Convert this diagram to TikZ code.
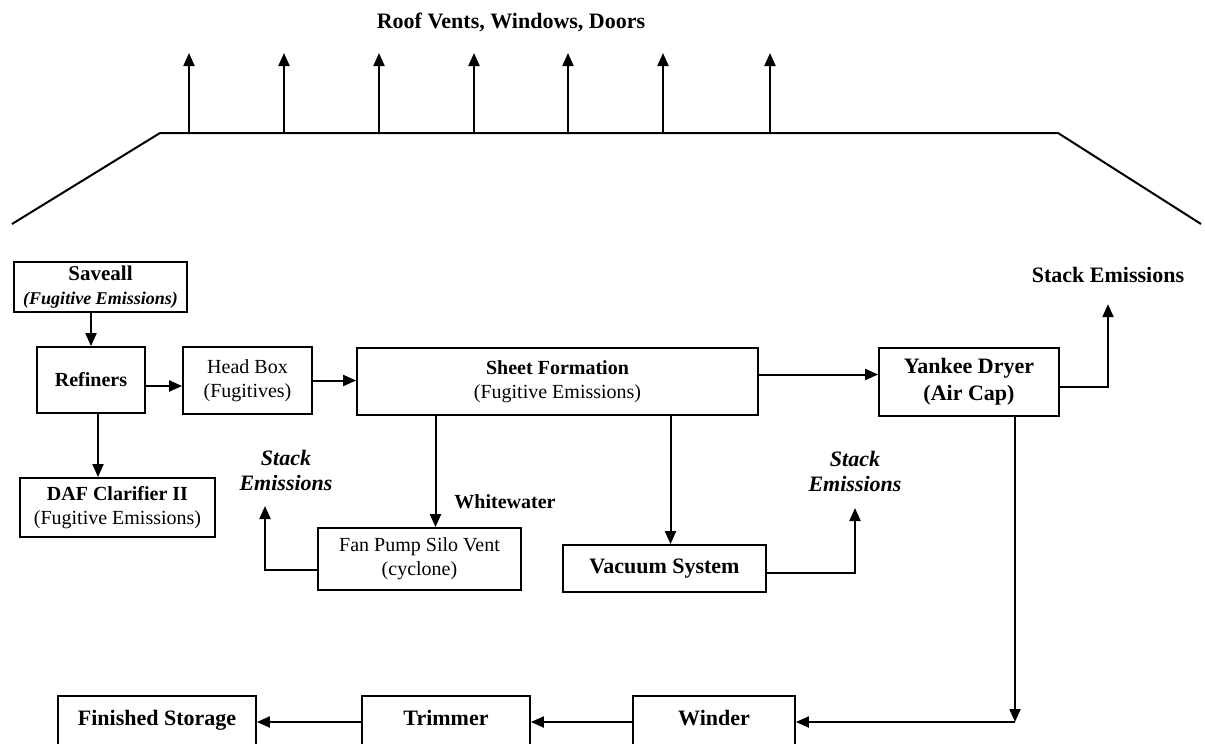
\documentclass[tikz,border=0pt]{standalone}
\usepackage{fontspec}
\setmainfont{Liberation Serif}
\usetikzlibrary{arrows.meta}

\tikzset{
	box/.style={draw, line width=0.9pt, align=center, inner sep=2pt, font=\fontsize{10}{12}\selectfont},
	bigbox/.style={box, font=\fontsize{11}{13.5}\selectfont\bfseries},
	lowbox/.style={bigbox, anchor=north, text height=10pt, text depth=26pt, inner ysep=5pt},
	flow/.style={line width=1pt, -{Triangle[length=6.5pt,width=5.5pt]}},
	stacklbl/.style={align=center, inner sep=0pt, font=\fontsize{11}{12.5}\selectfont\bfseries\itshape},
}

\begin{document}
\begin{tikzpicture}[x=0.5pt,y=-0.5pt]
			\useasboundingbox (0,0) rectangle (1205,744);
			\draw[line width=1pt] (12,224) -- (160,133) -- (1058,133) -- (1201,224);
			\foreach \x in {189,284,379,474,568,663,770}{
				\draw[flow] (\x,133) -- (\x,53);
			}
			\node[font=\fontsize{11}{13}\selectfont\bfseries] (roof) at (511,22) {Roof Vents, Windows, Doors};
			\node[box, minimum width=86.5pt, minimum height=25pt] (save) at (100.5,287)
				{{\fontsize{10.5}{12}\selectfont\bfseries Saveall}\\{\fontsize{9}{11}\selectfont\bfseries\itshape (Fugitive Emissions)}};
			\node[box, minimum width=54pt, minimum height=33pt] (ref) at (91,380) {\textbf{Refiners}};
			\node[box, minimum width=64.5pt, minimum height=33.5pt] (head) at (247.5,380.5) {Head Box\\(Fugitives)};
			\node[box, minimum width=200.5pt, minimum height=33.5pt] (sheet) at (557.5,381.5) {\textbf{Sheet Formation}\\(Fugitive Emissions)};
			\node[bigbox, minimum width=90pt, minimum height=34pt] (yank) at (969,382) {Yankee Dryer\\(Air Cap)};
			\node[box, minimum width=97.5pt, minimum height=29.5pt] (daf) at (117.5,507.5) {\textbf{DAF Clarifier II}\\(Fugitive Emissions)};
			\node[box, minimum width=101.5pt, minimum height=31pt] (fan) at (419.5,559) {Fan Pump Silo Vent\\(cyclone)};
			\node[bigbox, minimum width=101.5pt, minimum height=23.5pt] (vac) at (664.5,568.5) {Vacuum System};
			\node[lowbox, minimum width=99pt] (fin) at (157,695) {Finished Storage};
			\node[lowbox, minimum width=84pt] (trim) at (446,695) {Trimmer};
			\node[lowbox, minimum width=81pt] (win) at (714,695) {Winder};
			\node[font=\fontsize{11}{13}\selectfont\bfseries, inner sep=0pt] (stackR) at (1108,275) {Stack Emissions};
			\node[stacklbl] (stackL) at (286,470) {Stack\\Emissions};
			\node[stacklbl] (stackM) at (855,471) {Stack\\Emissions};
			\node[font=\fontsize{10}{12}\selectfont\bfseries] (white) at (505,502) {Whitewater};
			\coordinate (ventL) at (265,506);
			\coordinate (ventR) at (855,508);
			\coordinate (drop) at (1015,722);
			\draw[flow] (ref.north |- save.south) -- (ref.north);
			\draw[flow] ([yshift=-3pt]ref.east) -- ([yshift=-3pt]ref.east -| head.west);
			\draw[flow] (head.east) -- (head.east -| sheet.west);
			\draw[flow] ([yshift=3.5pt]sheet.east) -- ([yshift=3.5pt]sheet.east -| yank.west);
			\draw[flow, shorten >=10.5pt] ([yshift=-2.5pt]yank.east) -| (stackR.south);
			\draw[flow] ([xshift=3.5pt]ref.south) -- ([xshift=3.5pt]ref.south |- daf.north);
			\draw[flow] ([xshift=8pt]fan.north |- sheet.south) -- ([xshift=8pt]fan.north);
			\draw[flow] ([xshift=3pt]vac.north |- sheet.south) -- ([xshift=3pt]vac.north);
			\draw[flow] ([yshift=-5.5pt]fan.west) -| (ventL);
			\draw[flow] ([yshift=-2pt]vac.east) -| (ventR);
			\draw[flow] (yank.south -| drop) -- (drop);
			\draw[flow] (drop) -- (drop -| win.east);
			\draw[flow] (win.west |- drop) -- (trim.east |- drop);
			\draw[flow] (trim.west |- drop) -- (fin.east |- drop);
		\end{tikzpicture}
\end{document}
